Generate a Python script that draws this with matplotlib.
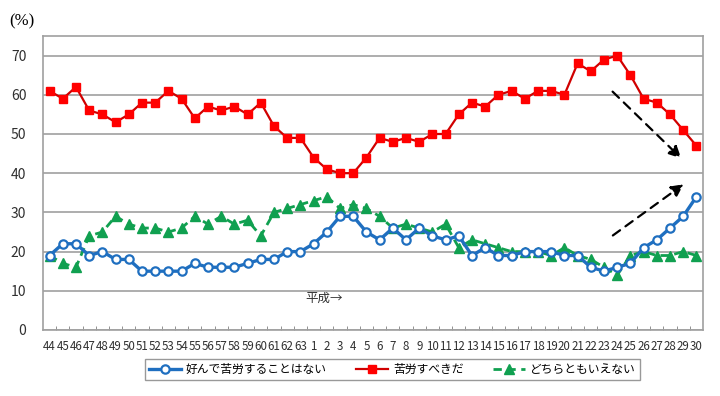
import matplotlib.pyplot as plt

plt.rcParams['font.family'] = ['Noto Sans CJK JP', 'DejaVu Sans']

# 年（昭和44～63、平成1～30）
years = [str(y) for y in range(44, 64)] + [str(y) for y in range(1, 31)]

no_hardship = [19, 22, 22, 19, 20, 18, 18, 15, 15, 15, 15, 17, 16, 16, 16, 17, 18, 18, 20, 20,
               22, 25, 29, 29, 25, 23, 26, 23, 26, 24, 23, 24, 19, 21, 19, 19, 20, 20, 20, 19,
               19, 16, 15, 16, 17, 21, 23, 26, 29, 34]
should_hardship = [61, 59, 62, 56, 55, 53, 55, 58, 58, 61, 59, 54, 57, 56, 57, 55, 58, 52, 49, 49,
                   44, 41, 40, 40, 44, 49, 48, 49, 48, 50, 50, 55, 58, 57, 60, 61, 59, 61, 61, 60,
                   68, 66, 69, 70, 65, 59, 58, 55, 51, 47]
neither = [19, 17, 16, 24, 25, 29, 27, 26, 26, 25, 26, 29, 27, 29, 27, 28, 24, 30, 31, 32,
           33, 34, 31, 32, 31, 29, 26, 27, 26, 25, 27, 21, 23, 22, 21, 20, 20, 20, 19, 21,
           19, 18, 16, 14, 19, 20, 19, 19, 20, 19]

names = ['好んで苦労することはない', '苦労すべきだ', 'どちらともいえない']

fig = plt.figure(figsize=(7.2, 3.96), dpi=100)
ax = fig.add_axes([0.0597, 0.1667, 0.9167, 0.7424])

x = range(len(years))
ax.plot(x, no_hardship, color='#1f6fc0', lw=2.4, marker='o', ms=6,
        mfc='white', mec='#1f6fc0', mew=1.6, label=names[0], zorder=4)
ax.plot(x, should_hardship, color='#d00000', lw=1.6, marker='s', ms=6,
        mfc='#ff0000', mec='#ff0000', label=names[1], zorder=3)
ax.plot(x, neither, color='#10a050', lw=2.0, ls=(0, (3, 2)), marker='^', ms=7,
        mfc='#10a050', mec='#10a050', label=names[2], zorder=3)

ax.set_xlim(-0.5, len(years) - 0.5)
ax.set_ylim(0, 75)
ax.set_yticks(range(0, 80, 10))
ax.grid(axis='y', color='#a0a0a0', lw=1.2)
ax.set_axisbelow(True)
for s in ax.spines.values():
    s.set_color('#a0a0a0')
    s.set_linewidth(1.2)

ax.set_xticks(list(x))
ax.set_xticklabels(years, fontsize=8.3, color='#303030')
ax.tick_params(axis='x', length=0, pad=7)
ax.set_xticks([i - 0.5 for i in range(1, len(years))], minor=True)
ax.tick_params(axis='x', which='minor', length=3, direction='in', color='#808080')
ax.tick_params(axis='y', length=0, labelsize=10, labelcolor='#303030', pad=12)

fig.text(0.013, 0.935, '(%)', fontsize=12, family='Liberation Serif')
ax.text(19.4, 8.1, '平成→', fontsize=9, color='#303030', va='center')

# 傾向を示す矢印
arrow = dict(arrowstyle='-|>', linestyle=(0, (4, 3)), color='black', lw=1.6, mutation_scale=18)
ax.annotate('', xy=(48.0, 43.3), xytext=(42.5, 61.3), arrowprops=arrow)
ax.annotate('', xy=(48.2, 37.6), xytext=(42.5, 23.7), arrowprops=arrow)

leg = fig.legend(loc='center', bbox_to_anchor=(0.545, 0.066), ncol=3, fontsize=8.5,
                 frameon=True, fancybox=False, edgecolor='#808080',
                 handlelength=2.7, handletextpad=0.4, columnspacing=2.5, borderpad=0.35)
leg.get_frame().set_linewidth(1.0)

fig.savefig('out.png', dpi=100)
